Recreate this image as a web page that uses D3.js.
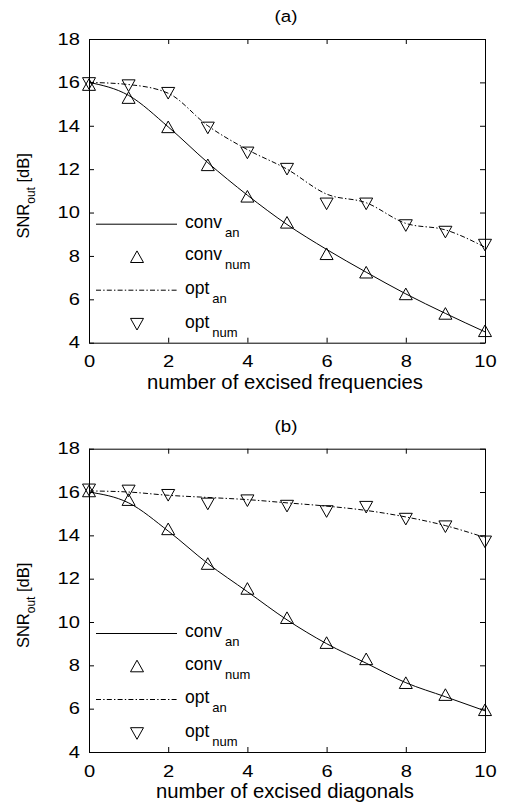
<!DOCTYPE html>
<html>
<head>
<meta charset="utf-8">
<script src="https://cdn.jsdelivr.net/npm/d3@7"></script>
<style>
  body { margin: 0; background: #fff; }
  svg text { font-family: "Liberation Sans", Arial, Helvetica, sans-serif; fill: #000; }
</style>
</head>
<body>
<div id="chart"></div>
<script>
// x values shared by both panels
const excised = [0, 1, 2, 3, 4, 5, 6, 7, 8, 9, 10]
const yTicks = [4, 6, 8, 10, 12, 14, 16, 18]
const xTicks = [0, 2, 4, 6, 8, 10]

// panel (a): excised frequencies
const convAnA  = [16.0, 15.4, 13.95, 12.3, 10.8, 9.45, 8.3, 7.25, 6.25, 5.35, 4.5]
const convNumA = [15.9, 15.3, 13.95, 12.2, 10.75, 9.55, 8.1, 7.25, 6.25, 5.35, 4.55]
const optAnA   = [16.0, 15.9, 15.5, 14.0, 12.9, 12.0, 10.85, 10.45, 9.5, 9.2, 8.4]
const optNumA  = [15.95, 15.85, 15.5, 13.9, 12.75, 12.0, 10.4, 10.4, 9.4, 9.1, 8.5]

// panel (b): excised diagonals
const convAnB  = [16.0, 15.5, 14.2, 12.7, 11.4, 10.1, 9.0, 8.1, 7.2, 6.55, 5.9]
const convNumB = [16.05, 15.65, 14.3, 12.7, 11.55, 10.2, 9.05, 8.3, 7.2, 6.65, 5.95]
const optAnB   = [16.05, 16.0, 15.85, 15.75, 15.65, 15.5, 15.35, 15.15, 14.85, 14.45, 13.9]
const optNumB  = [16.1, 16.05, 15.85, 15.45, 15.6, 15.35, 15.1, 15.3, 14.75, 14.4, 13.7]

const legendLabels = [['conv', 'an'], ['conv', 'num'], ['opt', 'an'], ['opt', 'num']]

const W = 507, H = 803
const svg = d3.select('#chart').append('svg')
    .attr('width', W).attr('height', H)

const left = 89, right = 485
const dashDot = '5,2.2,1.4,2.2'

// the source figure has text that is wider than it is tall
function stretch(sel, sx) {
    sel.each(function () {
        const t = d3.select(this)
        const tx = +t.attr('x') || 0, ty = +t.attr('y') || 0
        t.attr('x', 0).attr('y', 0)
            .attr('transform', `translate(${tx},${ty}) scale(${sx},1)`)
    })
}

function triPath(up) {
    // triangle marker, centred on its bounding box
    const hw = 6.5, hh = 5.8
    return up
        ? `M0,${-hh}L${hw},${hh}L${-hw},${hh}Z`
        : `M0,${hh}L${hw},${-hh}L${-hw},${-hh}Z`
}

function panel(top, bottom, title, xLabel, convAn, convNum, optAn, optNum) {
    const x = d3.scaleLinear().domain([0, 10]).range([left, right])
    const y = d3.scaleLinear().domain([4, 18]).range([bottom, top])
    const g = svg.append('g')

    // box + inward ticks on all four sides
    g.append('g').attr('transform', `translate(0,${bottom})`)
        .call(d3.axisBottom(x).tickValues(xTicks).tickSizeInner(-5).tickSizeOuter(0).tickPadding(13))
    g.append('g').attr('transform', `translate(0,${top})`)
        .call(d3.axisTop(x).tickValues(xTicks).tickSizeInner(-5).tickSizeOuter(0).tickFormat(''))
    g.append('g').attr('transform', `translate(${left},0)`)
        .call(d3.axisLeft(y).tickValues(yTicks).tickSizeInner(-5).tickSizeOuter(0).tickPadding(9))
    g.append('g').attr('transform', `translate(${right},0)`)
        .call(d3.axisRight(y).tickValues(yTicks).tickSizeInner(-5).tickSizeOuter(0).tickFormat(''))
    g.selectAll('.domain').attr('stroke', '#000').attr('stroke-width', 1)
    g.selectAll('.tick line').attr('stroke', '#000')
    g.selectAll('.tick text').attr('font-size', 16.5)
        .attr('font-family', '"Liberation Sans", Arial, sans-serif')
        .call(stretch, 1.22)

    // title
    g.append('text').attr('x', (left + right) / 2 - 1).attr('y', top - 17)
        .attr('text-anchor', 'middle').attr('font-size', 17).text(title)
        .call(stretch, 1.1)

    // x label
    g.append('text').attr('x', (left + right) / 2 - 2).attr('y', bottom + 46)
        .attr('text-anchor', 'middle').attr('font-size', 19.5).text(xLabel)
        .call(stretch, 1.04)

    // y label, rotated
    const yl = g.append('text')
        .attr('transform', `translate(29,${(top + bottom) / 2 + 5}) rotate(-90)`)
        .attr('text-anchor', 'middle').attr('font-size', 16.5)
    yl.append('tspan').text('SNR')
    yl.append('tspan').attr('font-size', 12).attr('dy', 6).text('out')
    yl.append('tspan').attr('dy', -6).text(' [dB]')

    const line = d3.line()
        .x((d, i) => x(excised[i]))
        .y(d => y(d))
        .curve(d3.curveMonotoneX)

    g.append('path').datum(convAn).attr('d', line)
        .attr('fill', 'none').attr('stroke', '#000').attr('stroke-width', 1)
    g.append('path').datum(optAn).attr('d', line)
        .attr('fill', 'none').attr('stroke', '#000').attr('stroke-width', 1)
        .attr('stroke-dasharray', dashDot)

    const markers = (vals, up) => g.append('g').selectAll('path')
        .data(vals).join('path')
        .attr('transform', (d, i) => `translate(${x(excised[i])},${y(d)})`)
        .attr('d', triPath(up))
        .attr('fill', 'none').attr('stroke', '#000').attr('stroke-width', 1)
    markers(convNum, true)
    markers(optNum, false)

    // legend, inside the axes at the lower left
    const rows = [bottom - 118.5, bottom - 86, bottom - 52.5, bottom - 18.5]
    const lg = g.append('g')
    lg.append('line').attr('x1', 96).attr('x2', 177).attr('y1', rows[0]).attr('y2', rows[0])
        .attr('stroke', '#000')
    lg.append('path').attr('transform', `translate(137,${rows[1]})`).attr('d', triPath(true))
        .attr('fill', 'none').attr('stroke', '#000')
    lg.append('line').attr('x1', 96).attr('x2', 177).attr('y1', rows[2]).attr('y2', rows[2])
        .attr('stroke', '#000').attr('stroke-dasharray', dashDot)
    lg.append('path').attr('transform', `translate(137,${rows[3]})`).attr('d', triPath(false))
        .attr('fill', 'none').attr('stroke', '#000')

    legendLabels.forEach((lab, i) => {
        const t = lg.append('text').attr('x', 185).attr('y', rows[i] + 3.5).attr('font-size', 17.5)
        t.append('tspan').text(lab[0])
        t.append('tspan').attr('font-size', 13).attr('dx', 3).attr('dy', 9).text(lab[1])
    })
}

panel(39, 342.7, '(a)', 'number of excised frequencies', convAnA, convNumA, optAnA, optNumA)
panel(448.7, 752, '(b)', 'number of excised diagonals', convAnB, convNumB, optAnB, optNumB)
</script>
</body>
</html>
